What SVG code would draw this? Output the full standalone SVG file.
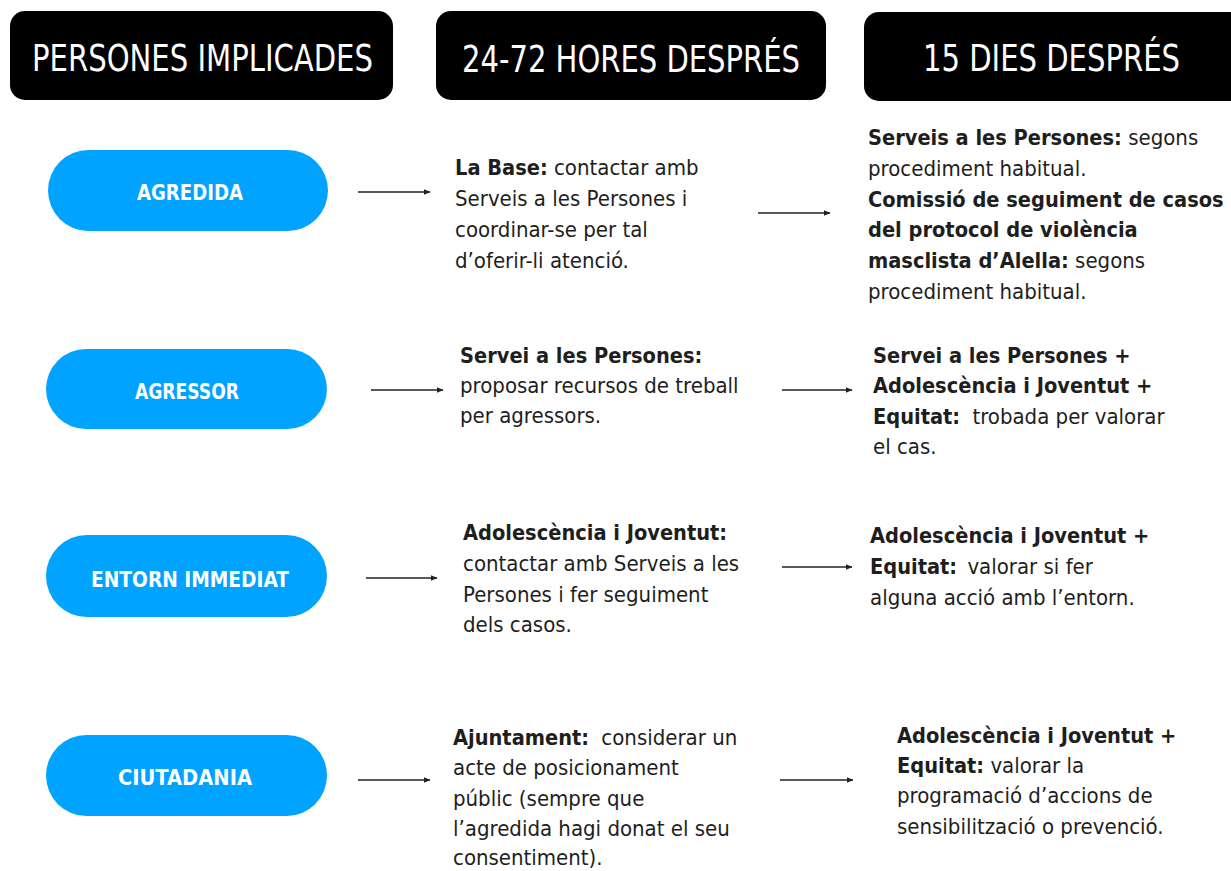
<svg xmlns="http://www.w3.org/2000/svg" width="1231" height="871" viewBox="0 0 1231 871">
<style>
.hdr{fill:#000;}
.hdrt{fill:#fff;font-family:"DejaVu Sans Condensed","DejaVu Sans",sans-serif;font-size:38px;}
.pill{fill:#00A3FF;}
.pillt{fill:#fff;font-family:"DejaVu Sans Condensed","DejaVu Sans",sans-serif;font-weight:bold;font-size:21px;text-anchor:middle;}
.body{fill:#1e1e1e;font-family:"DejaVu Sans Condensed","DejaVu Sans",sans-serif;font-size:22px;}
.b{font-weight:bold;font-size:21.6px;}
.conn{stroke:#222;stroke-width:1.6;fill:none;marker-end:url(#arr);}
</style>
<defs>
<marker id="arr" markerWidth="8" markerHeight="8" refX="6" refY="4" orient="auto" markerUnits="userSpaceOnUse">
<path d="M0,1.2 L6.5,4 L0,6.8 Z" fill="#222"/>
</marker>
</defs>
<rect width="1231" height="871" fill="#fff"/>

<g id="header-persones">
<rect class="hdr" x="10" y="11" width="383" height="89" rx="15"/>
<text class="hdrt" x="32" y="71" textLength="341" lengthAdjust="spacingAndGlyphs">PERSONES IMPLICADES</text>
</g>
<g id="header-24-72">
<rect class="hdr" x="436" y="11" width="390" height="89" rx="15"/>
<text class="hdrt" x="462" y="72" textLength="338" lengthAdjust="spacingAndGlyphs">24-72 HORES DESPRÉS</text>
</g>
<g id="header-15">
<rect class="hdr" x="864" y="12" width="390" height="89" rx="15"/>
<text class="hdrt" x="923" y="71" textLength="257" lengthAdjust="spacingAndGlyphs">15 DIES DESPRÉS</text>
</g>

<g id="node-agredida">
<rect class="pill" x="48" y="150" width="280" height="81" rx="40.5"/>
<text class="pillt" x="190" y="200" textLength="106" lengthAdjust="spacingAndGlyphs">AGREDIDA</text>
</g>
<g id="node-agressor">
<rect class="pill" x="46" y="349" width="281" height="80" rx="40"/>
<text class="pillt" x="187" y="399" textLength="104" lengthAdjust="spacingAndGlyphs">AGRESSOR</text>
</g>
<g id="node-entorn">
<rect class="pill" x="46" y="535" width="281" height="82" rx="41"/>
<text class="pillt" x="190" y="587" textLength="198" lengthAdjust="spacingAndGlyphs">ENTORN IMMEDIAT</text>
</g>
<g id="node-ciutadania">
<rect class="pill" x="46" y="735" width="281" height="81" rx="40.5"/>
<text class="pillt" x="185" y="785" textLength="134" lengthAdjust="spacingAndGlyphs">CIUTADANIA</text>
</g>

<g id="text-r1c2">
<text class="body" x="455" y="175"><tspan class="b">La Base:</tspan> contactar amb</text>
<text class="body" x="455" y="206">Serveis a les Persones i</text>
<text class="body" x="455" y="237">coordinar-se per tal</text>
<text class="body" x="455" y="268">d’oferir-li atenció.</text>
</g>
<g id="text-r1c3">
<text class="body" x="868" y="145"><tspan class="b">Serveis a les Persones:</tspan> segons</text>
<text class="body" x="868" y="176">procediment habitual.</text>
<text class="body b" x="868" y="207">Comissió de seguiment de casos</text>
<text class="body b" x="868" y="237">del protocol de violència</text>
<text class="body" x="868" y="268"><tspan class="b">masclista d’Alella:</tspan> segons</text>
<text class="body" x="868" y="299">procediment habitual.</text>
</g>

<g id="text-r2c2">
<text class="body b" x="460" y="363">Servei a les Persones:</text>
<text class="body" x="460" y="393">proposar recursos de treball</text>
<text class="body" x="460" y="423">per agressors.</text>
</g>
<g id="text-r2c3">
<text class="body b" x="873" y="363">Servei a les Persones +</text>
<text class="body b" x="873" y="393">Adolescència i Joventut +</text>
<text class="body" x="873" y="424"><tspan class="b">Equitat:</tspan><tspan dx="6"> trobada per valorar</tspan></text>
<text class="body" x="873" y="454">el cas.</text>
</g>

<g id="text-r3c2">
<text class="body b" x="463" y="540">Adolescència i Joventut:</text>
<text class="body" x="463" y="571">contactar amb Serveis a les</text>
<text class="body" x="463" y="602">Persones i fer seguiment</text>
<text class="body" x="463" y="632">dels casos.</text>
</g>
<g id="text-r3c3">
<text class="body b" x="870" y="543">Adolescència i Joventut +</text>
<text class="body" x="870" y="574"><tspan class="b">Equitat:</tspan><tspan dx="4"> valorar si fer</tspan></text>
<text class="body" x="870" y="605">alguna acció amb l’entorn.</text>
</g>

<g id="text-r4c2">
<text class="body" x="453" y="745"><tspan class="b">Ajuntament:</tspan><tspan dx="6"> considerar un</tspan></text>
<text class="body" x="453" y="775">acte de posicionament</text>
<text class="body" x="453" y="806">públic (sempre que</text>
<text class="body" x="453" y="836">l’agredida hagi donat el seu</text>
<text class="body" x="453" y="865">consentiment).</text>
</g>
<g id="text-r4c3">
<text class="body b" x="897" y="743">Adolescència i Joventut +</text>
<text class="body" x="897" y="773"><tspan class="b">Equitat:</tspan> valorar la</text>
<text class="body" x="897" y="803">programació d’accions de</text>
<text class="body" x="897" y="834">sensibilització o prevenció.</text>
</g>

<g id="connectors">
<line class="conn" x1="358" y1="192" x2="430" y2="192"/>
<line class="conn" x1="758" y1="213" x2="830" y2="213"/>
<line class="conn" x1="371" y1="390" x2="443" y2="390"/>
<line class="conn" x1="782" y1="390" x2="852" y2="390"/>
<line class="conn" x1="366" y1="578" x2="437" y2="578"/>
<line class="conn" x1="782" y1="567" x2="852" y2="567"/>
<line class="conn" x1="358" y1="780" x2="430" y2="780"/>
<line class="conn" x1="780" y1="780" x2="853" y2="780"/>
</g>
</svg>
